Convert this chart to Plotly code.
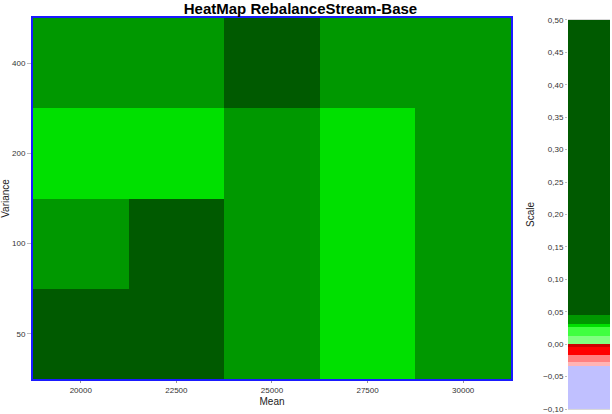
import plotly.graph_objects as go

# data
means = ["20000", "22500", "25000", "27500", "30000"]
variances = ["50", "100", "200", "400"]
# rows follow variances (bottom to top)
z_vals = [
    [0.060, 0.058, 0.038, 0.029, 0.040],
    [0.039, 0.055, 0.037, 0.029, 0.038],
    [0.029, 0.029, 0.039, 0.029, 0.040],
    [0.040, 0.041, 0.052, 0.039, 0.038],
]

# paint scale bands (lower bound -> upper bound) and their colours
scale_edges = [-0.10, -0.034, -0.028, -0.016, -0.005, 0.0, 0.013, 0.027, 0.031, 0.045, 0.50]
scale_colors = ["#c0c0ff", "#ffb4b4", "#ff8080", "#ff0000", "#cc0000",
                "#80ff80", "#40ff40", "#00e000", "#009800", "#005a00"]
scale_ticks = [-0.10, -0.05, 0.0, 0.05, 0.10, 0.15, 0.20, 0.25, 0.30, 0.35, 0.40, 0.45, 0.50]

zmin, zmax = scale_edges[0], scale_edges[-1]
colorscale = []
for i, c in enumerate(scale_colors):
    lo = (scale_edges[i] - zmin) / (zmax - zmin)
    hi = (scale_edges[i + 1] - zmin) / (zmax - zmin)
    colorscale.append([lo, c])
    colorscale.append([hi, c])

band_mid = [[(scale_edges[i] + scale_edges[i + 1]) / 2] for i in range(len(scale_colors))]

font = "Liberation Sans, Arial, sans-serif"

fig = go.Figure()
fig.add_trace(go.Heatmap(
    x=means, y=variances, z=z_vals,
    colorscale=colorscale, zmin=zmin, zmax=zmax,
    showscale=False, xgap=0, ygap=0,
))
fig.add_trace(go.Heatmap(
    x=[0, 1], y=scale_edges, z=band_mid,
    colorscale=colorscale, zmin=zmin, zmax=zmax,
    showscale=False, xaxis="x2", yaxis="y2",
))

fig.update_layout(
    width=612, height=414,
    margin=dict(l=33, r=2, t=18, b=5, autoexpand=False),
    paper_bgcolor="white", plot_bgcolor="white",
    separators=",.",
    font=dict(family=font, size=8, color="#333"),
    title=dict(text="<b>HeatMap RebalanceStream-Base</b>", x=0.491, xanchor="center",
               y=0.980, yanchor="middle", yref="container",
               font=dict(family=font, size=15, color="black")),
    xaxis=dict(domain=[0, 0.8284], type="category", showgrid=False, automargin=False,
               showline=True, mirror=True, linecolor="#1a1aff", linewidth=2,
               ticks="outside", ticklen=2, tickcolor="#999",
               title=dict(text="Mean", font=dict(size=10, color="#222"), standoff=4)),
    yaxis=dict(domain=[0.0767, 1], type="category", showgrid=False, automargin=False,
               showline=True, mirror=True, linecolor="#1a1aff", linewidth=2,
               ticks="outside", ticklen=4, tickcolor="#bbb",
               title=dict(text="Variance", font=dict(size=10, color="#222"), standoff=4)),
    xaxis2=dict(domain=[0.9272, 1], anchor="y2", range=[0, 1], showticklabels=False,
                showgrid=False, zeroline=False, showline=True, mirror=True, automargin=False,
                linecolor="#d8d8d8", linewidth=1),
    yaxis2=dict(domain=[0, 0.995], anchor="x2", range=[zmin, zmax], automargin=False,
                tickvals=scale_ticks, tickformat=".2f", showgrid=False, zeroline=False,
                showline=False, ticks="outside", ticklen=2, tickcolor="#bbb",
                title=dict(text="Scale", font=dict(size=10, color="#222"), standoff=6)),
)

# drop the browser's default body margin so the figure sits at the page corner
fig.write_html("out.html", config={"displayModeBar": False},
               post_script="document.body.style.margin='0px';")
